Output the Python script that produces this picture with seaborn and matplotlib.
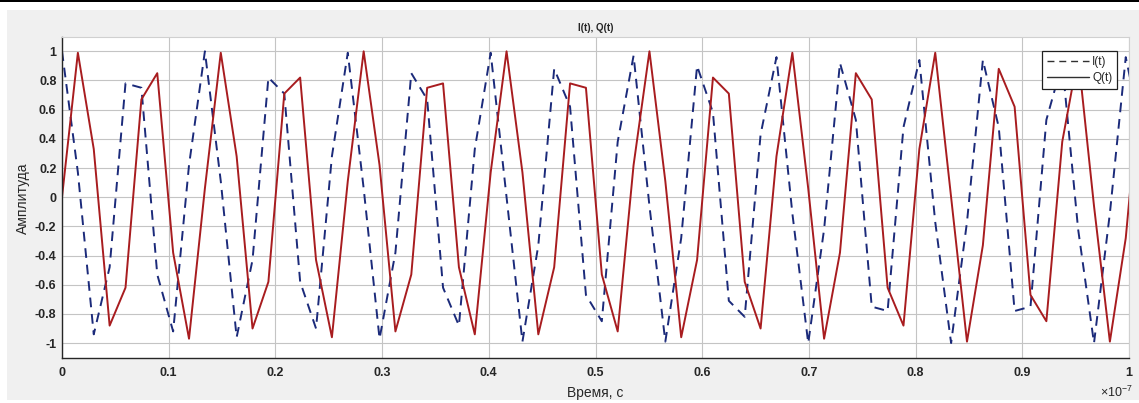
import matplotlib
matplotlib.use("Agg")
import matplotlib.pyplot as plt
import seaborn as sns
import numpy as np
import pandas as pd
from matplotlib.lines import Line2D
from matplotlib.patches import Rectangle

# ---------------- data ----------------
time_ns = [0.0, 1.488, 2.976, 4.464, 5.952, 7.44, 8.928, 10.416, 11.904, 13.392,
           14.88, 16.368, 17.856, 19.344, 20.832, 22.32, 23.808, 25.296, 26.784, 28.272,
           29.76, 31.248, 32.736, 34.224, 35.712, 37.2, 38.688, 40.176, 41.664, 43.152,
           44.64, 46.128, 47.616, 49.104, 50.592, 52.08, 53.568, 55.056, 56.544, 58.032,
           59.52, 61.008, 62.496, 63.984, 65.472, 66.96, 68.448, 69.936, 71.424, 72.912,
           74.4, 75.888, 77.376, 78.864, 80.352, 81.84, 83.328, 84.816, 86.304, 87.792,
           89.28, 90.768, 92.256, 93.744, 95.232, 96.72, 98.208, 99.696, 101.184]

I_vals = [1.00, 0.17, -0.94, -0.48, 0.78, 0.75, -0.53, -0.92, 0.22, 1.00,
          0.11, -0.96, -0.43, 0.82, 0.71, -0.58, -0.90, 0.28, 0.99, 0.06,
          -0.97, -0.38, 0.85, 0.67, -0.62, -0.88, 0.33, 0.99, 0.00, -0.99,
          -0.33, 0.88, 0.62, -0.67, -0.85, 0.38, 0.97, -0.06, -0.99, -0.28,
          0.90, 0.58, -0.71, -0.82, 0.43, 0.96, -0.11, -1.00, -0.22, 0.92,
          0.53, -0.75, -0.78, 0.48, 0.94, -0.17, -1.00, -0.17, 0.94, 0.48,
          -0.78, -0.75, 0.53, 0.92, -0.22, -1.00, -0.11, 0.96, 0.43]

Q_vals = [0.00, 0.99, 0.33, -0.88, -0.62, 0.67, 0.85, -0.38, -0.97, 0.06,
          0.99, 0.28, -0.90, -0.58, 0.71, 0.82, -0.43, -0.96, 0.11, 1.00,
          0.22, -0.92, -0.53, 0.75, 0.78, -0.48, -0.94, 0.17, 1.00, 0.17,
          -0.94, -0.48, 0.78, 0.75, -0.53, -0.92, 0.22, 1.00, 0.11, -0.96,
          -0.43, 0.82, 0.71, -0.58, -0.90, 0.28, 0.99, 0.06, -0.97, -0.38,
          0.85, 0.67, -0.62, -0.88, 0.33, 0.99, 0.00, -0.99, -0.33, 0.88,
          0.62, -0.67, -0.85, 0.38, 0.97, -0.06, -0.99, -0.28, 0.90]

x_ticks = [0, 0.1, 0.2, 0.3, 0.4, 0.5, 0.6, 0.7, 0.8, 0.9, 1]
x_tick_labels = ["0", "0.1", "0.2", "0.3", "0.4", "0.5", "0.6", "0.7", "0.8", "0.9", "1"]
y_ticks = [-1, -0.8, -0.6, -0.4, -0.2, 0, 0.2, 0.4, 0.6, 0.8, 1]
y_tick_labels = ["-1", "-0.8", "-0.6", "-0.4", "-0.2", "0", "0.2", "0.4", "0.6", "0.8", "1"]

title = "I(t), Q(t)"
x_label = "Время, с"
y_label = "Амплитуда"
series_labels = ["I(t)", "Q(t)"]

# ---------------- style ----------------
sns.set_style("white")
plt.rcParams["font.family"] = ["Liberation Sans", "DejaVu Sans"]

I_COLOR = "#1b2a7a"
Q_COLOR = "#a81c1f"

W, H = 1139, 403
fig = plt.figure(figsize=(W / 100, H / 100), dpi=100, facecolor="white")
# grey window area and the black top line of the screenshot
fig.patches.append(Rectangle((7 / W, 3 / H), 1 - 7 / W, 390 / H,
                             transform=fig.transFigure, facecolor="#f0f0f0",
                             edgecolor="none", zorder=-10))
fig.patches.append(Rectangle((0, 1 - 2 / H), 1, 2 / H, transform=fig.transFigure,
                             facecolor="black", edgecolor="none", zorder=-9))

ax = fig.add_axes([62 / W, 45.3 / H, 1067 / W, 321 / H])
ax.set_facecolor("white")

# time in units of 1e-7 s (axis shows x10^-7)
df = pd.DataFrame({
    "t": np.array(time_ns) / 100.0,
    "I": I_vals,
    "Q": Q_vals,
})

sns.lineplot(data=df, x="t", y="I", ax=ax, color=I_COLOR, linewidth=1.4,
             linestyle=(0, (5, 3.5)), estimator=None, sort=False, legend=False)
sns.lineplot(data=df, x="t", y="Q", ax=ax, color=Q_COLOR, linewidth=1.4,
             estimator=None, sort=False, legend=False)

ax.set_xlim(0, 1)
ax.set_ylim(-1.1, 1.1)

ax.set_xticks(x_ticks, labels=x_tick_labels, fontweight="bold")
ax.set_yticks(y_ticks, labels=y_tick_labels, fontweight="bold")
ax.tick_params(axis="both", direction="in", length=7.7, width=0.8,
               colors="#262626", labelsize=9)
ax.tick_params(axis="x", pad=7)
ax.tick_params(axis="y", pad=4)

ax.grid(True, color="#c4c4c4", linewidth=0.8)
ax.set_axisbelow(True)

for side in ["left", "bottom"]:
    ax.spines[side].set_color("#262626")
    ax.spines[side].set_linewidth(1.0)
for side in ["top", "right"]:
    ax.spines[side].set_color("#d0d0d0")
    ax.spines[side].set_linewidth(0.8)

ax.set_xlabel(x_label, fontsize=10, color="#262626", va="center")
ax.xaxis.set_label_coords(0.5, -0.11)
ax.set_ylabel(y_label, fontsize=10, color="#262626", va="center")
ax.yaxis.set_label_coords(-0.0366, 0.4975)

ax.text(0.5, 1.027, title, transform=ax.transAxes, ha="center", va="center",
        fontsize=7, fontweight="bold", color="#262626")

ax.text(1.0037, -0.107, r"$\mathregular{\times10^{-7}}$", transform=ax.transAxes,
        ha="right", va="center", fontsize=9, color="#262626")

handles = [Line2D([0], [0], color="#303030", linewidth=1.0, linestyle=(0, (5, 3.5))),
           Line2D([0], [0], color="#303030", linewidth=1.0)]
leg = ax.legend(handles, series_labels, loc="upper right",
                bbox_to_anchor=(0.9888, 0.9555), borderaxespad=0,
                fontsize=8.5, handlelength=3.5, handletextpad=0.3,
                labelspacing=0.4, borderpad=0.4, fancybox=False,
                framealpha=1, edgecolor="#202020")
leg.get_frame().set_linewidth(0.9)

fig.savefig("out.png", dpi=100, facecolor=fig.get_facecolor())
